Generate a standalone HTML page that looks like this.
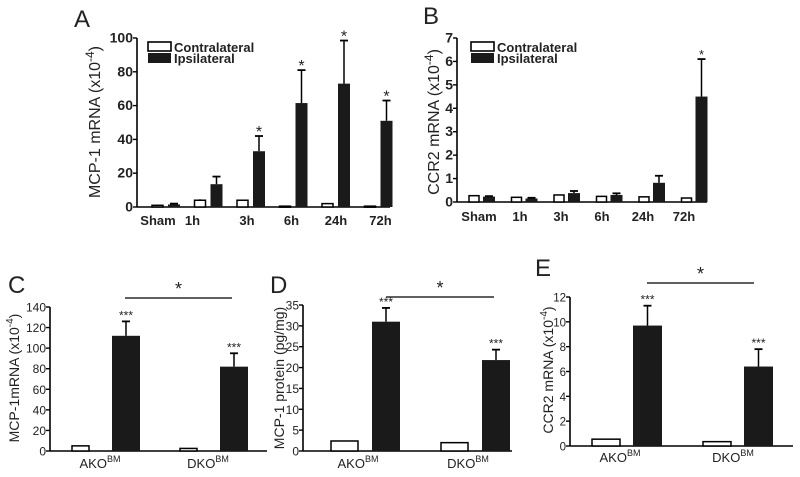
<!DOCTYPE html>
<html><head><meta charset="utf-8"><style>
body{margin:0;background:#fff}
svg{display:block;font-family:"Liberation Sans",Arial,sans-serif}
</style></head><body>
<svg id="fig" width="800" height="477" viewBox="0 0 800 477" xmlns="http://www.w3.org/2000/svg"></svg>
<script>
// Panel A data
const aCategories=["Sham","1h","3h","6h","24h","72h"];
const aContra=[1,4,4,0.5,2,0.5];
const aContraErr=[0.3,0.6,0.3,0.2,0.4,0.2];
const aIpsi=[1.5,13.5,33,61.5,73,51];
const aIpsiErr=[0.5,4.5,9,19.5,25.5,12];
const aStars=["","","*","*","*","*"];
const aTicks=[0,20,40,60,80,100];
// Panel B data
const bCategories=["Sham","1h","3h","6h","24h","72h"];
const bContra=[0.27,0.2,0.3,0.24,0.22,0.17];
const bContraErr=[0.02,0.02,0.02,0.02,0.02,0.02];
const bIpsi=[0.23,0.15,0.38,0.3,0.82,4.5];
const bIpsiErr=[0.02,0.03,0.09,0.07,0.3,1.6];
const bStars=["","","","","","*"];
const bTicks=[0,1,2,3,4,5,6,7];
// Panel C data
const cCategories=["AKO","DKO"];
const cWhite=[5,2.5];
const cBlack=[112,82];
const cBlackErr=[14,13];
const cTicks=[0,20,40,60,80,100,120,140];
// Panel D data
const dCategories=["AKO","DKO"];
const dWhite=[2.4,2];
const dBlack=[31,21.8];
const dBlackErr=[3.3,2.5];
const dTicks=[0,5,10,15,20,25,30,35];
// Panel E data
const eCategories=["AKO","DKO"];
const eWhite=[0.55,0.35];
const eBlack=[9.7,6.4];
const eBlackErr=[1.6,1.4];
const eTicks=[0,2,4,6,8,10,12];

const NS="http://www.w3.org/2000/svg";
const svg=document.getElementById('fig');
function mk(tag,attrs,parent){const e=document.createElementNS(NS,tag);for(const k in attrs)e.setAttribute(k,attrs[k]);(parent||svg).appendChild(e);return e;}
function txt(s,attrs,parent){const e=mk('text',attrs,parent);e.textContent=s;return e;}

function panel(cfg){
  const g=mk('g',{});
  
  
  const y=v=>cfg.y0-(v/cfg.ymax)*(cfg.y0-cfg.yTop);
  // y title
  const yt=txt('',{transform:`translate(${cfg.titleX},${cfg.titleY}) rotate(-90)`,'text-anchor':'middle','font-size':cfg.titleFs,fill:'#222'},g);
  
  yt.textContent=cfg.title;
  if(cfg.exp){const s=mk('tspan',{'font-size':cfg.titleFs-4,dy:-6},yt);s.textContent=cfg.exp;const s2=mk('tspan',{dy:6},yt);s2.textContent=')';}
  // axes
  const ya=mk('line',{x1:cfg.ax,y1:cfg.yTop,x2:cfg.ax,y2:cfg.y0,stroke:'#000','stroke-width':1.6},g);
  
  const xa=mk('line',{x1:cfg.ax,y1:cfg.y0,x2:cfg.axEnd,y2:cfg.y0,stroke:'#000','stroke-width':1.6},g);
  
  cfg.ticks.forEach(t=>{
    mk('line',{x1:cfg.ax-4,y1:y(t),x2:cfg.ax,y2:y(t),stroke:'#000','stroke-width':1.4},g);
    const tl=txt(String(t),{x:cfg.ax-4,y:y(t)+4.5,'text-anchor':'end','font-size':cfg.tickFs,'font-weight':cfg.bold?'bold':'normal',fill:'#222'},g);
    
  });
  // bars
  cfg.cats.forEach((c,i)=>{
    const gx=cfg.gx(i);
    const wx=gx, bx=gx+cfg.off;
    const wv=cfg.white[i];
    if(cfg.whiteErr){mk('line',{x1:wx+cfg.ww/2,y1:y(wv),x2:wx+cfg.ww/2,y2:y(wv+cfg.whiteErr[i]),stroke:'#000','stroke-width':1.5},g);}
    const wr=mk('rect',{x:wx,y:y(wv),width:cfg.ww,height:Math.max(cfg.y0-y(wv),1),fill:'#fff',stroke:'#000','stroke-width':1.5},g);
    
    const bv=cfg.black[i], top=y(bv+cfg.blackErr[i]);
    mk('line',{x1:bx+cfg.bw/2,y1:y(bv),x2:bx+cfg.bw/2,y2:top,stroke:'#000','stroke-width':1.5},g);
    mk('line',{x1:bx+cfg.bw/2-4,y1:top,x2:bx+cfg.bw/2+4,y2:top,stroke:'#000','stroke-width':1.8},g);
    const br=mk('rect',{x:bx,y:y(bv),width:cfg.bw,height:cfg.y0-y(bv),fill:'#1a1a1a'},g);
    
    if(cfg.stars[i]){const st=txt(cfg.stars[i],{x:bx+cfg.bw/2,y:top-cfg.starGap,'text-anchor':'middle','font-size':cfg.starFs,fill:'#222'},g);
      }
    const lx=cfg.labelX(i);
    const xl=txt('',{x:lx,y:cfg.y0+cfg.labelDy,'text-anchor':'middle','font-size':cfg.labelFs,'font-weight':cfg.bold?'bold':'normal',fill:'#222'},g);
    
    xl.textContent=c;
    if(cfg.sup){const s=mk('tspan',{'font-size':9,dy:-6},xl);s.textContent='BM';}
  });
  // panel letter
  const pl=txt(cfg.letter,{x:cfg.letterX,y:cfg.letterY,'font-size':24,fill:'#222'},g);
  
  if(cfg.sig){
    const sl=mk('line',{x1:cfg.sig[0],y1:cfg.sig[2],x2:cfg.sig[1],y2:cfg.sig[2],stroke:'#000','stroke-width':1.3},g);
    
    txt('*',{x:(cfg.sig[0]+cfg.sig[1])/2,y:cfg.sig[2]-3,'text-anchor':'middle','font-size':18,fill:'#222'},g);
  }
  if(cfg.legend){
    const [lx,ly]=cfg.legend;
    const lg=mk('g',{},g);
    mk('rect',{x:lx,y:ly,width:23,height:9,fill:'#fff',stroke:'#000','stroke-width':1.6},lg);
    mk('rect',{x:lx,y:ly+11,width:23,height:10,fill:'#1a1a1a'},lg);
    txt('Contralateral',{x:lx+26,y:ly+10,'font-size':13,'font-weight':'bold',fill:'#222'},lg);
    txt('Ipsilateral',{x:lx+26,y:ly+21,'font-size':13,'font-weight':'bold',fill:'#222'},lg);
  }
}
panel({name:'panel-a-mcp1-mrna',letter:'A',letterX:74,letterY:27,ax:137,axEnd:390,y0:207,yTop:38,ymax:100,ticks:aTicks,bold:true,tickFs:14,
  cats:aCategories,white:aContra,whiteErr:aContraErr,black:aIpsi,blackErr:aIpsiErr,stars:aStars,
  gx:i=>152+i*42.5,off:16,ww:11,bw:12,labelX:i=>158+i*44.5-(i==1?10:0),labelDy:18,labelFs:13,starFs:16,starGap:-1,
  title:'MCP-1 mRNA (x10',exp:'-4',titleX:100,titleY:122,titleFs:16,legend:[148,42]});
panel({name:'panel-b-ccr2-mrna',letter:'B',letterX:423,letterY:24,ax:457,axEnd:707,y0:202,yTop:38,ymax:7,ticks:bTicks,bold:true,tickFs:14,
  cats:bCategories,white:bContra,whiteErr:bContraErr,black:bIpsi,blackErr:bIpsiErr,stars:bStars,
  gx:i=>469+i*42.5,off:14,ww:10,bw:12,labelX:i=>479+i*41,labelDy:19,labelFs:13,starFs:13,starGap:0,
  title:'CCR2 mRNA (x10',exp:'-4',titleX:439,titleY:122,titleFs:16,legend:[471,42]});
panel({name:'panel-c-mcp1-mrna-bm',letter:'C',letterX:8,letterY:293,ax:50,axEnd:267,y0:451,yTop:307,ymax:140,ticks:cTicks,bold:false,tickFs:12,
  cats:cCategories,white:cWhite,black:cBlack,blackErr:cBlackErr,stars:['***','***'],
  gx:i=>72+i*108,off:40,ww:17,bw:28,labelX:i=>100+i*108,labelDy:17,labelFs:13,sup:true,starFs:12,starGap:2,
  title:'MCP-1mRNA (x10',exp:'-4',titleX:19,titleY:378,titleFs:14,sig:[125,232,298]});
panel({name:'panel-d-mcp1-protein',letter:'D',letterX:270,letterY:293,ax:303,axEnd:512,y0:451,yTop:305,ymax:35,ticks:dTicks,bold:false,tickFs:12,
  cats:dCategories,white:dWhite,black:dBlack,blackErr:dBlackErr,stars:['***','***'],
  gx:i=>331+i*110,off:41,ww:27,bw:28,labelX:i=>358+i*110,labelDy:17,labelFs:13,sup:true,starFs:12,starGap:2,
  title:'MCP-1 protein (pg/mg)',titleX:284,titleY:378,titleFs:14,sig:[386,494,297]});
panel({name:'panel-e-ccr2-mrna-bm',letter:'E',letterX:535,letterY:276,ax:570,axEnd:793,y0:446,yTop:297,ymax:12,ticks:eTicks,bold:false,tickFs:11.5,
  cats:eCategories,white:eWhite,black:eBlack,blackErr:eBlackErr,stars:['***','***'],
  gx:i=>592+i*111,off:41,ww:28,bw:29,labelX:i=>620+i*113,labelDy:16,labelFs:13,sup:true,starFs:12,starGap:2,
  title:'CCR2 mRNA (x10',exp:'-4',titleX:553,titleY:370,titleFs:14,sig:[647,754,283]});
</script>
</body></html>
